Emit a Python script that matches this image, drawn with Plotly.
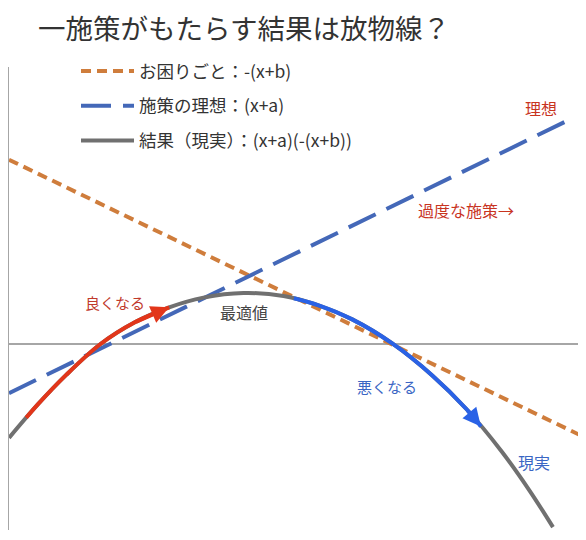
import plotly.graph_objects as go

# data units: x 0..10 across the plot, y = 0 on the horizontal axis
trouble_x = [0.0, 10.0]
trouble_y = [3.22, -1.60]

ideal_x = [0.0, 9.86]
ideal_y = [-0.86, 3.95]

# points (smoothed with a spline)
result_x = [0.0, 0.5, 1.0, 1.6, 2.2, 2.8, 3.4, 4.1, 4.8, 5.4, 6.0, 6.7, 7.4, 8.0, 8.6, 9.1, 9.51]
result_y = [-1.64, -1.06, -0.54, 0.0, 0.38, 0.64, 0.81, 0.89, 0.84, 0.68, 0.43, 0.01,
            -0.55, -1.14, -1.86, -2.56, -3.20]

# "良くなる" arrow (red) and "悪くなる" arrow (blue) along the curve
good_x = [0.30, 0.5, 1.0, 1.6, 2.2, 2.8]
good_y = [-1.29, -1.06, -0.54, 0.0, 0.38, 0.64]

bad_x = [4.98, 5.4, 6.0, 6.7, 7.4, 8.0, 8.25]
bad_y = [0.80, 0.68, 0.43, 0.01, -0.55, -1.14, -1.44]

legend_names = ["お困りごと：-(x+b)", "施策の理想：(x+a)", "結果（現実）：(x+a)(-(x+b))"]

FONT = "Noto Sans CJK JP"
ORANGE = "#cf7d3c"
BLUE = "#4468b8"
GRAY = "#707070"
RED = "#e2361a"
BRIGHT_BLUE = "#2a62e6"

fig = go.Figure()

fig.add_trace(go.Scatter(x=trouble_x, y=trouble_y, mode="lines", name=legend_names[0],
                         legendgroup="a",
                         line=dict(color=ORANGE, width=4, dash="10px,6px")))
fig.add_trace(go.Scatter(x=ideal_x, y=ideal_y, mode="lines", name=legend_names[1],
                         legendgroup="b",
                         line=dict(color=BLUE, width=4, dash="30px,12px")))
fig.add_trace(go.Scatter(x=result_x, y=result_y, mode="lines", name=legend_names[2],
                         legendgroup="c",
                         line=dict(color=GRAY, width=4, shape="spline")))

for ax_, ay_, col in [(good_x, good_y, RED), (bad_x, bad_y, BRIGHT_BLUE)]:
    fig.add_trace(go.Scatter(x=ax_, y=ay_, mode="lines", showlegend=False,
                             line=dict(color=col, width=4, shape="spline")))
    # arrow head on the last segment
    fig.add_annotation(x=ax_[-1], y=ay_[-1], ax=ax_[-2], ay=ay_[-2],
                       xref="x", yref="y", axref="x", ayref="y", text="",
                       showarrow=True, arrowhead=2, arrowsize=0.9, arrowwidth=4,
                       arrowcolor=col, standoff=0)

labels = [
    ("理想", 9.30, 4.12, "#c8341f", 16),
    ("過度な施策→", 7.99, 2.34, "#c8341f", 16),
    ("良くなる", 1.85, 0.72, "#c0392b", 15),
    ("最適値", 4.11, 0.56, "#444444", 16),
    ("悪くなる", 6.61, -0.75, "#3a66c4", 15),
    ("現実", 9.18, -2.06, "#3a66c4", 16),
]
for txt, x, y, col, size in labels:
    fig.add_annotation(x=x, y=y, text=txt, showarrow=False,
                       font=dict(family=FONT, size=size, color=col))

fig.update_layout(
    width=586, height=540,
    margin=dict(l=1, r=13, t=59, b=18, autoexpand=False),
    paper_bgcolor="white", plot_bgcolor="white",
    title=dict(text="一施策がもたらす結果は放物線？", x=236 / 586, xanchor="center",
               y=1 - 21 / 540, yanchor="middle",
               font=dict(family=FONT, size=27.5, color="#333333")),
    legend=dict(x=67 / 572, y=(530 - 53) / 463,
                xanchor="left", yanchor="top", traceorder="grouped", tracegroupgap=9,
                itemwidth=53, bgcolor="rgba(0,0,0,0)",
                font=dict(family=FONT, size=17.5, color="#333333")),
    xaxis=dict(range=[0, 10], showgrid=False, zeroline=False, showline=False,
               showticklabels=False, ticks=""),
    yaxis=dict(range=[-3.25, 4.84], showgrid=False, zeroline=True,
               zerolinecolor="#a6a6a6", zerolinewidth=2, showline=True,
               linecolor="#a6a6a6", linewidth=2, showticklabels=False, ticks=""),
    showlegend=True,
)

fig.write_html("out.html")
